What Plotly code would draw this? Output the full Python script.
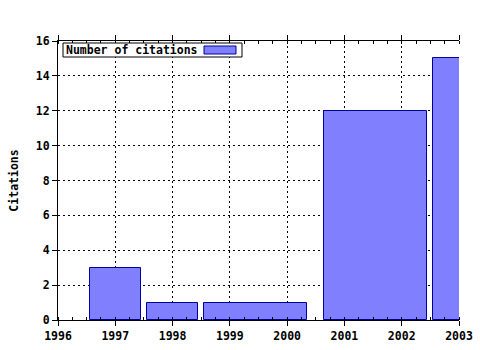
import plotly.graph_objects as go

# bar positions (year) and spans in years
bar_center = [1997, 1998, 1999.45, 2001.55, 2003]
bar_span = [0.9, 0.9, 1.8, 1.8, 0.9]
citations = [3, 1, 1, 12, 15]
x_ticks = [1996, 1997, 1998, 1999, 2000, 2001, 2002, 2003]
y_ticks = [0, 2, 4, 6, 8, 10, 12, 14, 16]

FONT = "DejaVu Sans Mono"
FS = 11.5
fig = go.Figure()
fig.add_trace(go.Bar(
    x=bar_center, y=citations, width=bar_span,
    marker=dict(color="#8080ff", line=dict(color="#0000a0", width=1)),
    name="Number of citations", showlegend=False,
))

fig.update_layout(
    width=480, height=350,
    margin=dict(l=58, r=21, t=41, b=30, autoexpand=False),
    paper_bgcolor="white", plot_bgcolor="white",
    font=dict(family=FONT, size=FS, color="black"),
    xaxis=dict(
        range=[1996, 2003], tickvals=x_ticks, ticktext=[str(v) for v in x_ticks],
        showline=True, linecolor="black", linewidth=1, mirror="ticks",
        ticks="outside", ticklen=5, tickcolor="black",
        showgrid=True, gridcolor="black", gridwidth=1, griddash="2px,3px",
        zeroline=False, automargin=False,
        tickfont=dict(family=FONT, size=FS, weight="bold"),
        minor=dict(dtick=0.25, tick0=1996, ticks="inside", ticklen=3, tickcolor="black", showgrid=False),
    ),
    yaxis=dict(
        range=[0, 16], tickvals=y_ticks,
        showline=True, linecolor="black", linewidth=1, mirror=False,
        ticks="outside", ticklen=5, tickcolor="black",
        showgrid=True, gridcolor="black", gridwidth=1, griddash="2px,3px",
        zeroline=False, automargin=False,
        tickfont=dict(family=FONT, size=FS, weight="bold"),
        title=dict(text="Citations", font=dict(family=FONT, size=FS, weight="bold"), standoff=14),
    ),
    bargap=0,
)

# legend box (text on left, swatch on right)
fig.add_shape(type="rect", xref="paper", yref="paper",
              x0=5 / 401, x1=184 / 401, y0=1 - 16 / 279, y1=1 - 2 / 279,
              line=dict(color="black", width=1), fillcolor="white", layer="above")
fig.add_annotation(xref="paper", yref="paper", x=6 / 401, y=1 - 9 / 279,
                   xanchor="left", yanchor="middle", showarrow=False,
                   text="<b>Number of citations</b>", font=dict(family=FONT, size=FS))
fig.add_shape(type="rect", xref="paper", yref="paper",
              x0=146 / 401, x1=178 / 401, y0=1 - 13 / 279, y1=1 - 5 / 279,
              line=dict(color="#0000a0", width=1), fillcolor="#8080ff", layer="above")

fig.write_html("out.html")
